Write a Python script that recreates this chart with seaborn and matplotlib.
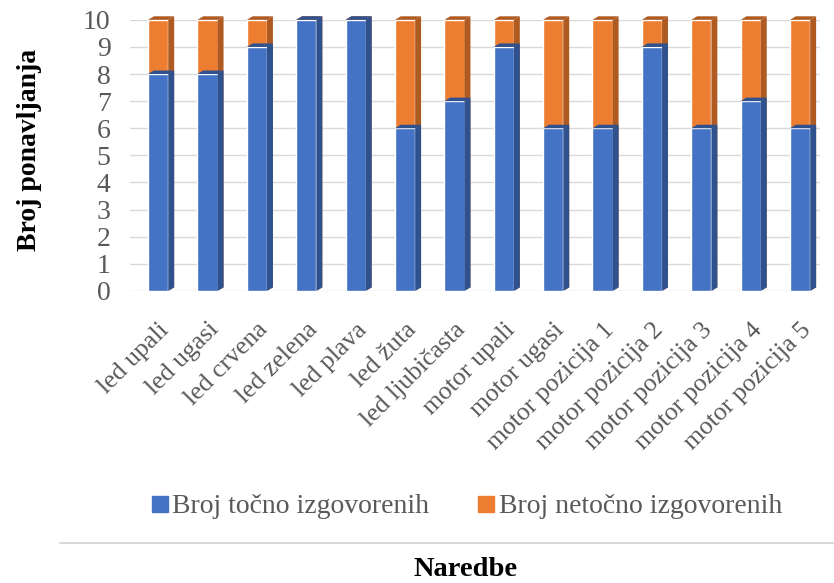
import matplotlib
matplotlib.use("Agg")
import matplotlib.pyplot as plt
import seaborn as sns
import pandas as pd
from matplotlib.patches import Polygon
from matplotlib.lines import Line2D

categories = ["led upali", "led ugasi", "led crvena", "led zelena", "led plava",
              "led žuta", "led ljubičasta", "motor upali", "motor ugasi",
              "motor pozicija 1", "motor pozicija 2", "motor pozicija 3",
              "motor pozicija 4", "motor pozicija 5"]
tocno = [8, 8, 9, 10, 10, 6, 7, 9, 6, 6, 9, 6, 7, 6]
netocno = [2, 2, 1, 0, 0, 4, 3, 1, 4, 4, 1, 4, 3, 4]
y_ticks = list(range(0, 11))
series_names = ["Broj točno izgovorenih", "Broj netočno izgovorenih"]

BLUE = "#4472C4"
ORANGE = "#ED7D31"
BLUE_SIDE = "#2F528F"
ORANGE_SIDE = "#AE5A21"
TEXT = "#595959"

sns.set_theme(style="white")
plt.rcParams["font.family"] = ["Liberation Serif", "DejaVu Serif"]

df = pd.DataFrame({"Naredba": categories,
                   "tocno": tocno,
                   "ukupno": [a + b for a, b in zip(tocno, netocno)]})

fig = plt.figure(figsize=(8.34, 5.83), dpi=100)
ax = fig.add_axes([0.156, 0.501, 0.827, 0.465])

sns.barplot(data=df, x="Naredba", y="ukupno", color=ORANGE, width=0.41,
            saturation=1, ax=ax, zorder=3)
n_or = len(ax.patches)
sns.barplot(data=df, x="Naredba", y="tocno", color=BLUE, width=0.41,
            saturation=1, ax=ax, zorder=4)

# pseudo 3D depth faces derived from the drawn patches
dx, dy = 0.12, 0.13
for i, p in enumerate(list(ax.patches)):
    x0 = p.get_x(); w = p.get_width(); h = p.get_height()
    orange = i < n_or
    if orange and h <= 0:
        continue
    side = ORANGE_SIDE if orange else BLUE_SIDE
    z = 3.5 if orange else 4.5
    ax.add_patch(Polygon([(x0 + w, 0), (x0 + w + dx, dy), (x0 + w + dx, h + dy), (x0 + w, h)],
                         closed=True, facecolor=side, edgecolor="none", zorder=z,
                         clip_on=False))
    ax.add_patch(Polygon([(x0, h), (x0 + dx, h + dy), (x0 + w + dx, h + dy), (x0 + w, h)],
                         closed=True, facecolor=side, edgecolor="none", zorder=z,
                         clip_on=False))

ax.set_ylim(0, 10)
ax.set_xlim(-0.567, 13.4)
ax.set_yticks(y_ticks)
ax.set_yticklabels([str(t) for t in y_ticks], fontsize=20, color=TEXT)
ax.yaxis.grid(True, color="#D9D9D9", linewidth=1, zorder=0)
ax.set_axisbelow(True)
for s in ax.spines.values():
    s.set_visible(False)
ax.tick_params(axis="y", length=0, pad=14)
ax.tick_params(axis="x", length=0, pad=20)
ax.set_xticks(range(len(categories)))
ax.set_xticklabels(categories, rotation=45, ha="right", rotation_mode="anchor",
                   fontsize=18.5, color=TEXT)
ax.set_xlabel("")
ax.set_ylabel("Broj ponavljanja", fontsize=20, fontweight="bold", color="black")
ax.yaxis.set_label_coords(-0.128, 0.52)

handles = [Line2D([], [], marker="s", linestyle="none", markersize=11,
                  markerfacecolor=BLUE, markeredgecolor=BLUE),
           Line2D([], [], marker="s", linestyle="none", markersize=11,
                  markerfacecolor=ORANGE, markeredgecolor=ORANGE)]
leg = fig.legend(handles, series_names,
                 loc="center", bbox_to_anchor=(0.557, 0.131), ncol=2, frameon=False,
                 fontsize=20, handletextpad=0.0, columnspacing=1.6, handlelength=0.9)
for t in leg.get_texts():
    t.set_color(TEXT)

fig.add_artist(Line2D([0.072, 1.0], [0.069, 0.069], transform=fig.transFigure,
                      color="#D9D9D9", linewidth=1.5))
fig.text(0.558, 0.024, "Naredbe", ha="center", va="center", fontsize=20.5,
         fontweight="bold", color="black")

fig.savefig("out.png", dpi=100)
